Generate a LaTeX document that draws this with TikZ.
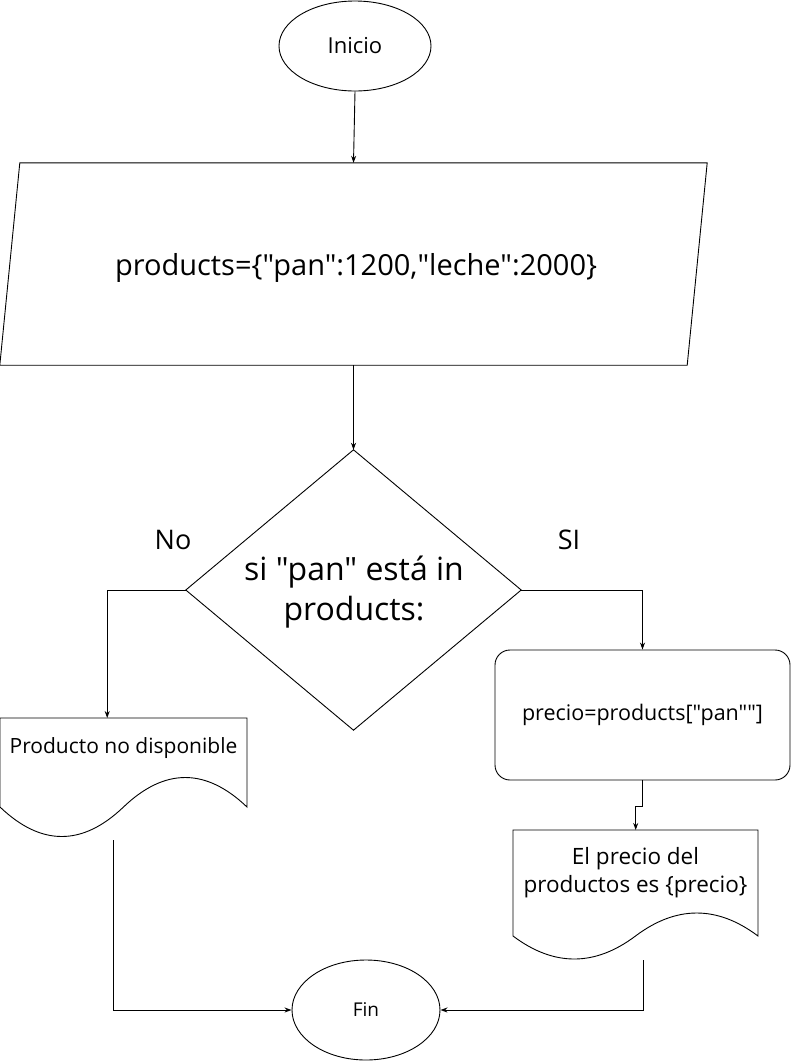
\documentclass[tikz,border=0pt]{standalone}
\usepackage{fontspec}
\defaultfontfeatures[\rmfamily]{}
\setmainfont{Open Sans}
\usetikzlibrary{shapes.geometric,arrows.meta,calc}
\begin{document}
\begin{tikzpicture}[x=1pt,y=-1pt,
  line/.style={draw=black,line width=0.9pt},
  arr/.style={line,-{Stealth[length=7pt,width=5pt]}},
  term/.style={ellipse,line,inner sep=0pt},
  ghost/.style={rectangle,inner sep=0pt,align=center},
  lbl/.style={font=\fontsize{27}{30}\selectfont}
]
\useasboundingbox (0,0) rectangle (792,1061);
% start
\node[term,minimum width=152,minimum height=90,font=\fontsize{22}{26}\selectfont] (ini) at (355,46) {Inicio};
% parallelogram (data)
\node[ghost,minimum width=707,minimum height=202,font=\fontsize{29}{34}\selectfont] (data) at (353.5,264) {};
\draw[line] ([xshift=20pt]data.north west) -- (data.north east) -- ([xshift=-20pt]data.south east) -- (data.south west) -- cycle;
\node[ghost,font=\fontsize{29}{34}\selectfont] (datatxt) at (356,268) {products=\{"pan":1200,"leche":2000\}};
% decision
\node[ghost,minimum width=335,minimum height=280] (dec) at (353.5,590) {};
\draw[line] (dec.north) -- (dec.east) -- (dec.south) -- (dec.west) -- cycle;
\node[ghost,font=\fontsize{32}{40}\selectfont] (dectxt) at (354,592) {si "pan" está in\\products:};
\node[lbl] (no) at (173,540) {No};
\node[lbl] (si) at (569,540) {SI};
% document 1
\node[ghost,minimum width=247,minimum height=89,anchor=north west] (doc1) at (0,718) {};
\draw[line] (0,718) -- (247,718) -- (247,807)
  .. controls (205.83,767.67) and (164.67,767.67) .. (123.5,807)
  .. controls (82.33,846.33) and (41.17,846.33) .. (0,807) -- cycle;
\node[ghost,font=\fontsize{21}{24}\selectfont] (doc1txt) at (123.5,748) {Producto no disponible};
\coordinate (d1b) at (113,840);
% process
\node[rectangle,rounded corners=15pt,line,minimum width=295,minimum height=130,font=\fontsize{21.5}{25}\selectfont] (proc) at (642.5,715) {precio=products["pan""]};
% document 2
\node[ghost,minimum width=245,minimum height=106,anchor=north west] (doc2) at (513,830) {};
\draw[line] (513,830) -- (758,830) -- (758,936)
  .. controls (717.17,905.33) and (676.33,905.33) .. (635.5,936)
  .. controls (594.67,966.67) and (553.83,966.67) .. (513,936) -- cycle;
\node[ghost,font=\fontsize{22.5}{28}\selectfont] (doc2txt) at (635.5,873) {El precio del\\productos es \{precio\}};
\coordinate (d2b) at (643,960);
% end
\node[term,minimum width=148,minimum height=100,font=\fontsize{19}{23}\selectfont] (fin) at (366,1010) {Fin};
% connectors
\draw[arr] (ini.south) -- (data.north);
\draw[arr] (data.south) -- (dec.north);
\draw[arr] (dec.west) -| ([xshift=-16.5pt]doc1.north);
\draw[arr] (dec.east) -| (proc.north);
\draw[arr] (proc.south) -- ++(0,26) -| (doc2.north);
\draw[arr] (d1b) |- (fin.west);
\draw[arr] (d2b) |- (fin.east);
\end{tikzpicture}
\end{document}
